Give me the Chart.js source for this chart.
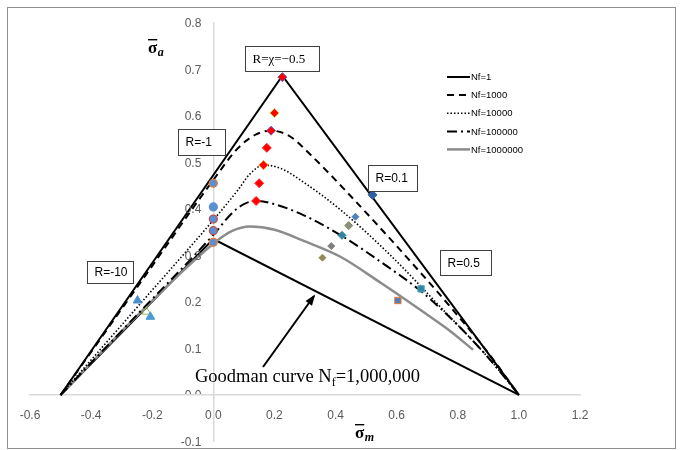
<!DOCTYPE html>
<html><head><meta charset="utf-8">
<script src="https://cdn.jsdelivr.net/npm/chart.js@4"></script>
<style>html,body{margin:0;padding:0;background:#fff}canvas{display:block}</style>
</head><body>
<canvas id="c" width="682" height="450"></canvas>
<script>
// ---- data ----
const seriesNames = ['Nf=1', 'Nf=1000', 'Nf=10000', 'Nf=100000', 'Nf=1000000'];

const nf1X = [-0.5, 0.226, 1.0];
const nf1Y = [0, 0.686, 0];

const nf1000X = [-0.5, -0.25, 0, 0.08, 0.14, 0.19, 0.25, 0.32, 0.44, 0.6, 0.776, 0.9, 1.0];
const nf1000Y = [0, 0.231, 0.462, 0.53, 0.56, 0.568, 0.556, 0.515, 0.434, 0.32, 0.189, 0.09, 0];

const nf10000X = [-0.5, -0.25, 0, 0.08, 0.12, 0.164, 0.22, 0.3, 0.416, 0.58, 0.743, 0.9, 1.0];
const nf10000Y = [0, 0.188, 0.376, 0.44, 0.475, 0.494, 0.487, 0.455, 0.398, 0.30, 0.189, 0.08, 0];

const nf100000X = [-0.5, -0.25, 0, 0.06, 0.1, 0.14, 0.2, 0.3, 0.425, 0.55, 0.687, 0.8, 0.9, 1.0];
const nf100000Y = [0, 0.172, 0.344, 0.39, 0.41, 0.417, 0.41, 0.385, 0.34, 0.285, 0.219, 0.15, 0.08, 0];

const nf1000000X = [-0.5, -0.25, 0, 0.06, 0.12, 0.2, 0.3, 0.416, 0.55, 0.677, 0.78, 0.85];
const nf1000000Y = [0, 0.17, 0.325, 0.352, 0.362, 0.355, 0.33, 0.297, 0.24, 0.183, 0.135, 0.097];

const goodmanX = [-0.5, 0, 1.0];
const goodmanY = [0, 0.335, 0];

// experimental points
const apexX = [0.226, 0.200, 0.189, 0.175, 0.164, 0.150, 0.140];
const apexY = [0.683, 0.606, 0.568, 0.531, 0.494, 0.455, 0.417];
const rm1X = [0, 0, 0, 0, 0];
const rm1Y = [0.455, 0.404, 0.378, 0.353, 0.328];
const rm10X = [-0.248, -0.219, -0.206];
const rm10Y = [0.203, 0.179, 0.168];
const r01X = [0.521, 0.465, 0.443, 0.421, 0.386, 0.357];
const r01Y = [0.430, 0.383, 0.364, 0.343, 0.320, 0.295];
const r05X = [0.680, 0.604];
const r05Y = [0.228, 0.203];

const xTicks = [-0.6, -0.4, -0.2, 0, 0.2, 0.4, 0.6, 0.8, 1.0, 1.2];
const yTicks = [-0.1, 0, 0.1, 0.2, 0.3, 0.4, 0.5, 0.6, 0.7, 0.8];

const annotations = [
  {text: 'R=\u03C7=\u22120.5', serif: true},
  {text: 'R=-1'},
  {text: 'R=0.1'},
  {text: 'R=0.5'},
  {text: 'R=-10'}
];
const goodmanLabel = ['Goodman curve N', 'f', '=1,000,000'];

// ---- build ----
const pts = (xs, ys) => xs.map((x, i) => ({x, y: ys[i]}));

const lineStyles = [
  {color: '#000000', width: 2, dash: []},
  {color: '#000000', width: 2, dash: [7, 5]},
  {color: '#000000', width: 1.6, dash: [1.5, 2]},
  {color: '#000000', width: 2, dash: [10, 4, 2, 4]},
  {color: '#8c8c8c', width: 2.5, dash: []}
];
const curveData = [pts(nf1X, nf1Y), pts(nf1000X, nf1000Y), pts(nf10000X, nf10000Y), pts(nf100000X, nf100000Y), pts(nf1000000X, nf1000000Y)];

const datasets = [];
datasets.push({label: 'apex', data: pts(apexX, apexY), pointStyle: 'rectRot', pointRadius: 4.5,
  backgroundColor: '#ff0000', borderColor: ['#5b5bbd', '#c9c93a', '#6a5acd', '#ff3030', '#ff8000', '#ff3030', '#ff3030'], borderWidth: 1, showLine: false, order: 0});
datasets.push({label: 'r-1', data: pts(rm1X, rm1Y), pointStyle: 'circle', pointRadius: 4,
  backgroundColor: '#5b8fd0', borderColor: ['#ed7d31', '#5b8fd0', '#c0504d', '#c0504d', '#ed7d31'], borderWidth: 1.2, showLine: false, order: 0});
datasets.push({label: 'r-10', data: pts(rm10X, rm10Y), pointStyle: 'triangle', pointRadius: 5,
  backgroundColor: ['#4a90d0', 'rgba(255,255,255,0)', '#4a9ad4'], borderColor: ['#4a90d0', '#9bbb59', '#4a9ad4'], borderWidth: 1, showLine: false, order: 0});
datasets.push({label: 'r01', data: pts(r01X, r01Y), pointStyle: 'rectRot', pointRadius: [4.5, 3.5, 4, 4, 3.5, 3.5],
  backgroundColor: ['#2f5f9e', '#4f81bd', '#8c8c8c', '#31859c', '#7f7f7f', '#948a54'], borderColor: ['#2f5f9e', '#4f81bd', '#77933c', '#31859c', '#7f7f7f', '#948a54'], borderWidth: 1, showLine: false, order: 0});
datasets.push({label: 'r05', data: pts(r05X, r05Y), pointStyle: 'rect', pointRadius: 4.5,
  backgroundColor: ['#31859c', '#4f81bd'], borderColor: ['#4bacc6', '#ed7d31'], borderWidth: 1, showLine: false, order: 0});
datasets.push({label: 'Goodman', data: pts(goodmanX, goodmanY), showLine: true, borderColor: '#000', borderWidth: 2,
  pointRadius: 0, tension: 0, order: 2});
curveData.forEach((d, i) => {
  datasets.push({label: seriesNames[i], data: d, showLine: true, borderColor: lineStyles[i].color,
    borderWidth: lineStyles[i].width, borderDash: lineStyles[i].dash, pointRadius: 0,
    cubicInterpolationMode: i === 0 ? 'default' : 'monotone', tension: 0, order: 1});
});

const tickFont = {family: 'Liberation Sans', size: 12};

const decor = {
  id: 'decor',
  afterDraw(chart) {
    const ctx = chart.ctx;
    const xs = chart.scales.x, ys = chart.scales.y;
    ctx.save();
    // frame
    ctx.strokeStyle = '#8f8f8f';
    ctx.lineWidth = 1;
    ctx.strokeRect(7.5, 7.5, 668, 441);

    // y tick labels (left of the vertical axis at x = 0)
    const axX = xs.getPixelForValue(0);
    const axY = ys.getPixelForValue(0);
    ctx.font = '12px "Liberation Sans"';
    ctx.fillStyle = '#595959';
    ctx.textAlign = 'right';
    ctx.textBaseline = 'middle';
    ys.ticks.forEach(t => {
      const py = ys.getPixelForValue(t.value);
      const lbl = Number(t.value).toFixed(1);
      if (Math.abs(t.value) < 1e-9) {
        ctx.save();
        ctx.beginPath(); ctx.rect(0, 0, axX, axY - 1); ctx.clip();
        ctx.fillText(lbl, axX - 12, py + 1);
        ctx.restore();
      } else {
        ctx.fillText(lbl, axX - 12, py + 1);
      }
    });

    // annotation boxes
    const boxes = [
      [245.5, 46.5, 74, 25],
      [178.5, 129.5, 47, 26],
      [368.5, 165.5, 49, 26],
      [440.5, 250.5, 51, 25],
      [87.5, 261.5, 46, 22]
    ];
    boxes.forEach((b, i) => {
      ctx.fillStyle = '#ffffff';
      ctx.fillRect(b[0], b[1], b[2], b[3]);
      ctx.strokeStyle = '#404040';
      ctx.lineWidth = 1;
      ctx.strokeRect(b[0], b[1], b[2], b[3]);
      ctx.fillStyle = '#000';
      ctx.font = annotations[i].serif ? '13px "Liberation Serif"' : '12px "Liberation Sans"';
      ctx.textBaseline = 'middle';
      ctx.textAlign = 'left';
      ctx.fillText(annotations[i].text, b[0] + 7, b[1] + b[3] / 2 + 0.5);
    });

    // Goodman label
    ctx.fillStyle = '#000';
    ctx.textBaseline = 'alphabetic';
    ctx.textAlign = 'left';
    ctx.font = '18.5px "Liberation Serif"';
    let tx = 195, ty = 382;
    ctx.fillText(goodmanLabel[0], tx, ty);
    tx += ctx.measureText(goodmanLabel[0]).width;
    ctx.font = '12px "Liberation Serif"';
    ctx.fillText(goodmanLabel[1], tx, ty + 4);
    tx += ctx.measureText(goodmanLabel[1]).width;
    ctx.font = '18.5px "Liberation Serif"';
    ctx.fillText(goodmanLabel[2], tx, ty);

    // arrow
    const ax0 = 263, ay0 = 367, ax1 = 314, ay1 = 296;
    ctx.strokeStyle = '#000';
    ctx.lineWidth = 2;
    ctx.beginPath(); ctx.moveTo(ax0, ay0); ctx.lineTo(ax1, ay1); ctx.stroke();
    const ang = Math.atan2(ay1 - ay0, ax1 - ax0);
    ctx.beginPath();
    ctx.moveTo(ax1 + 2 * Math.cos(ang), ay1 + 2 * Math.sin(ang));
    ctx.lineTo(ax1 - 9 * Math.cos(ang) + 4 * Math.sin(ang), ay1 - 9 * Math.sin(ang) - 4 * Math.cos(ang));
    ctx.lineTo(ax1 - 9 * Math.cos(ang) - 4 * Math.sin(ang), ay1 - 9 * Math.sin(ang) + 4 * Math.cos(ang));
    ctx.closePath(); ctx.fillStyle = '#000'; ctx.fill();

    // axis titles
    const drawSigma = (x, y, sub) => {
      ctx.fillStyle = '#000';
      ctx.font = 'bold 17px "Liberation Serif"';
      ctx.textAlign = 'left';
      ctx.textBaseline = 'alphabetic';
      ctx.fillText('\u03C3', x, y);
      const w = ctx.measureText('\u03C3').width;
      ctx.fillRect(x, y - 14, w, 1.4);
      ctx.font = 'bold italic 12px "Liberation Serif"';
      ctx.fillText(sub, x + w + 0.5, y + 3);
    };
    drawSigma(148, 53, 'a');
    drawSigma(355, 438, 'm');

    // legend
    const ly = [77, 95, 113.3, 131.6, 149.4];
    ctx.font = '9.5px "Liberation Sans"';
    ctx.textBaseline = 'middle';
    seriesNames.forEach((n, i) => {
      const s = lineStyles[i];
      ctx.strokeStyle = s.color;
      ctx.lineWidth = s.width;
      ctx.setLineDash(s.dash);
      ctx.beginPath(); ctx.moveTo(447, ly[i]); ctx.lineTo(470, ly[i]); ctx.stroke();
      ctx.setLineDash([]);
      ctx.fillStyle = '#000';
      ctx.fillText(n, 471, ly[i] + 0.5);
    });
    ctx.restore();
  }
};

const chart = new Chart(document.getElementById('c'), {
  type: 'scatter',
  data: {datasets},
  options: {
    responsive: false,
    animation: false,
    devicePixelRatio: 1,
    layout: {padding: {left: 30, right: 102, top: 23, bottom: 9}},
    plugins: {legend: {display: false}, tooltip: {enabled: false}},
    scales: {
      x: {
        type: 'linear', min: -0.6, max: 1.2,
        position: {y: 0},
        afterBuildTicks: s => { s.ticks = xTicks.map(v => ({value: v})); },
        grid: {display: false, drawTicks: false},
        border: {display: true, color: '#d9d9d9', width: 1.5},
        ticks: {font: tickFont, color: '#595959', padding: 14, maxRotation: 0, callback: v => Number(v).toFixed(1)}
      },
      y: {
        type: 'linear', min: -0.1, max: 0.8,
        position: {x: 0},
        afterBuildTicks: s => { s.ticks = yTicks.map(v => ({value: v})); },
        grid: {display: false, drawTicks: false},
        border: {display: true, color: '#d9d9d9', width: 1.5},
        ticks: {display: false}
      }
    }
  },
  plugins: [decor]
});

// fit the plot area to the reference frame
const target = {left: 30, right: 580, top: 22.7, bottom: 441.5};
const ca = chart.chartArea;
const pad = chart.options.layout.padding;
pad.left += target.left - ca.left;
pad.right += ca.right - target.right;
pad.top += target.top - ca.top;
pad.bottom += ca.bottom - target.bottom;
chart.update();
</script>
</body></html>
